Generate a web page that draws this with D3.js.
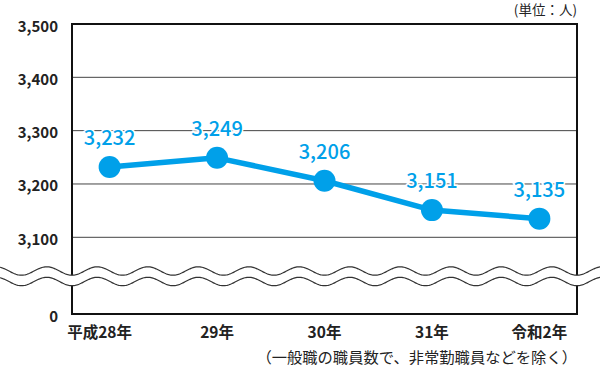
<!DOCTYPE html>
<html><head><meta charset="utf-8">
<script src="https://cdn.jsdelivr.net/npm/d3@7"></script>
<style>
html,body{margin:0;padding:0;background:#fff;}
svg{display:block;font-family:"Noto Sans CJK JP","Noto Sans",sans-serif;}
</style></head>
<body>
<svg id="chart" width="600" height="367"></svg>
<script>
const categories = ["平成28年", "29年", "30年", "31年", "令和2年"];
const values = [3232, 3249, 3206, 3151, 3135];
const yTicks = [0, 3100, 3200, 3300, 3400, 3500];
const unitLabel = "(単位：人)";
const footnote = "（一般職の職員数で、非常勤職員などを除く）";

(function () {
const W = 600, H = 367;
const mLeft = 72, mRight = 577, mTop = 24, mBottom = 314;
const blue = "#00a0e9";
const svg = d3.select("#chart");

const x = d3.scalePoint().domain(categories).range([mLeft, mRight]).padding(0.35);
const y = d3.scaleLinear().domain([0, 3100, 3500]).range([mBottom, 237.3, mTop]);

// gridlines (interior)
svg.append("g").selectAll("line")
  .data(yTicks.filter(d => d > 3000 && d < 3500))
  .join("line")
  .attr("x1", mLeft).attr("x2", mRight)
  .attr("y1", d => y(d)).attr("y2", d => y(d))
  .attr("stroke", "#444").attr("stroke-width", 1);

// frame
svg.append("rect")
  .attr("x", mLeft).attr("y", mTop)
  .attr("width", mRight - mLeft).attr("height", mBottom - mTop)
  .attr("fill", "none").attr("stroke", "#111").attr("stroke-width", 2);

// y tick labels
svg.append("g").selectAll("text")
  .data(yTicks).join("text")
  .attr("x", 58).attr("y", d => y(d) + 7.5)
  .attr("text-anchor", "end")
  .attr("font-size", 15).attr("font-weight", 700).attr("fill", "#222")
  .text(d => d3.format(",")(d));

// axis break waves
const period = (mRight - mLeft) / 10;
const amp = 4.2;
function wavePts(cy) {
  const pts = [];
  for (let px = -2; px <= W + 2; px += 1) {
    pts.push([px, cy + amp * Math.cos(2 * Math.PI * (px - mLeft) / period)]);
  }
  return pts;
}
const upper = wavePts(271), lower = wavePts(281.5);
const area = d3.area().x(d => d[0]).y0(d => d[1]).y1((d, i) => lower[i][1]);
svg.append("path").datum(upper).attr("d", area).attr("fill", "#fff");
const ln = d3.line();
svg.append("path").attr("d", ln(upper)).attr("fill", "none").attr("stroke", "#333").attr("stroke-width", 1.2);
svg.append("path").attr("d", ln(lower)).attr("fill", "none").attr("stroke", "#333").attr("stroke-width", 1.2);

// x labels
svg.append("g").selectAll("text")
  .data(categories).join("text")
  .attr("x", (d, i) => x(d) + (i === 0 ? -10 : 0))
  .attr("y", 338)
  .attr("text-anchor", "middle")
  .attr("font-size", 15.5).attr("font-weight", 700).attr("fill", "#222")
  .text(d => d);

// line
const data = categories.map((c, i) => ({c, v: values[i]}));
svg.append("path").datum(data)
  .attr("d", d3.line().x(d => x(d.c)).y(d => y(d.v)))
  .attr("fill", "none").attr("stroke", blue).attr("stroke-width", 5.5)
  .attr("stroke-linejoin", "round");
svg.append("g").selectAll("circle").data(data).join("circle")
  .attr("cx", d => x(d.c)).attr("cy", d => y(d.v)).attr("r", 11)
  .attr("fill", blue);

// value labels
svg.append("g").selectAll("text").data(data).join("text")
  .attr("x", d => x(d.c)).attr("y", d => y(d.v) - 22)
  .attr("text-anchor", "middle")
  .attr("font-size", 20).attr("font-weight", 500).attr("fill", blue)
  .attr("stroke", "#fff").attr("stroke-width", 3).attr("paint-order", "stroke")
  .text(d => d3.format(",")(d.v));

// unit
svg.append("text").attr("x", 577).attr("y", 14.5)
  .attr("text-anchor", "end").attr("font-size", 13.5).attr("fill", "#222")
  .text(unitLabel);

// footnote
svg.append("text").attr("x", 577).attr("y", 363)
  .attr("text-anchor", "end").attr("font-size", 15.3).attr("fill", "#222")
  .text(footnote);
})();
</script>
</body></html>
